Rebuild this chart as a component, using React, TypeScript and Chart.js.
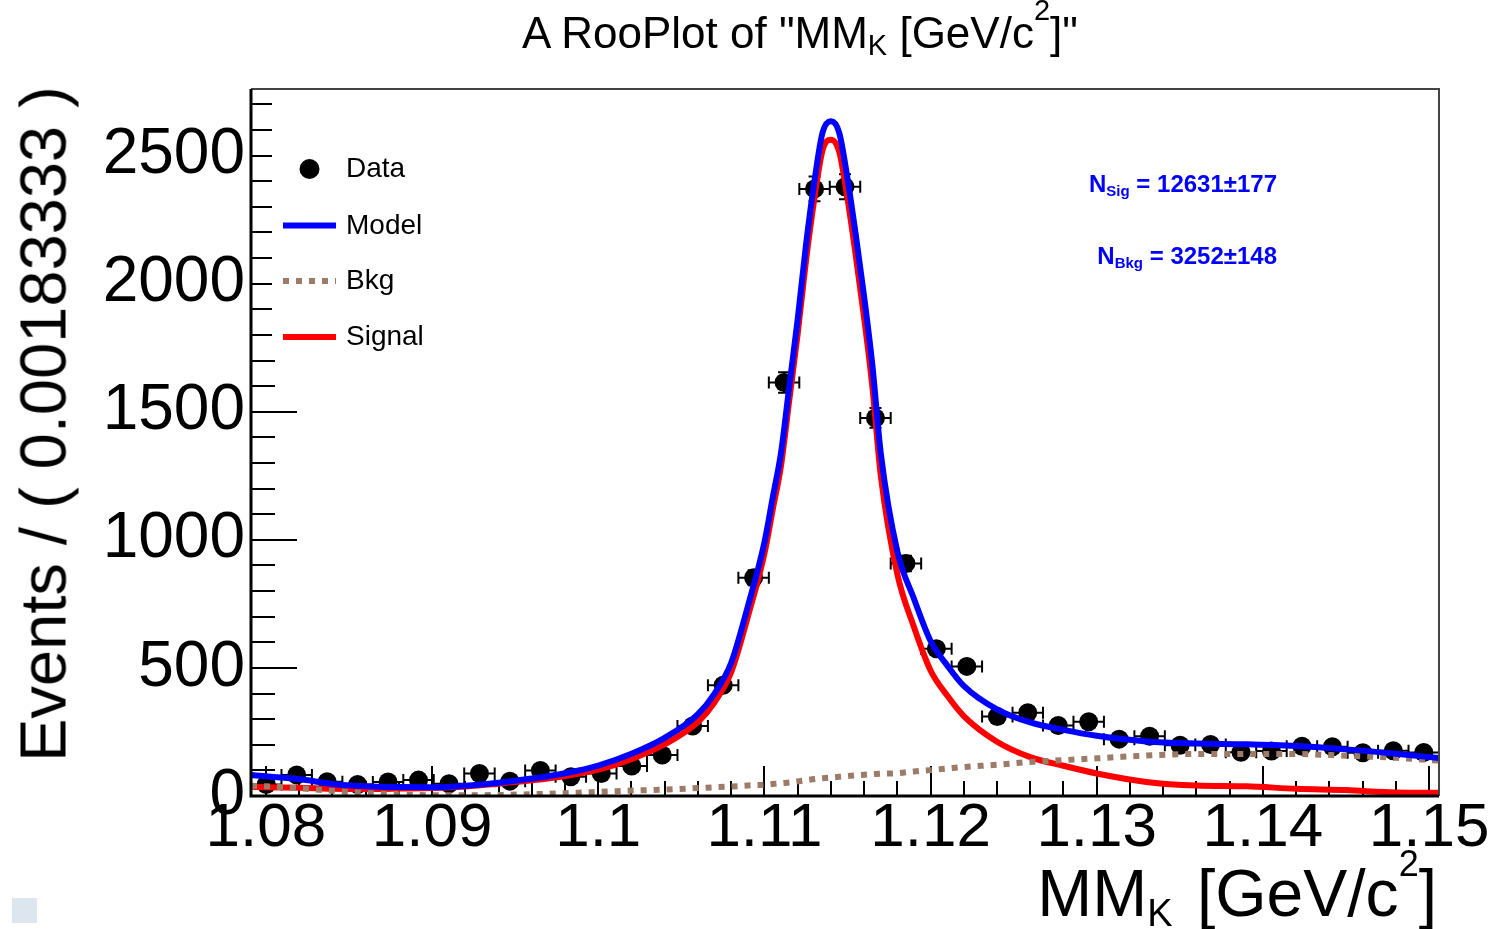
import React, { useEffect, useRef } from 'react';
import { Chart, registerables } from 'chart.js';

Chart.register(...registerables);

const FONT = '"Liberation Sans", Arial, Helvetica, sans-serif';

// ---- axes ----
const X_MIN = 1.0791;
const X_MAX = 1.1506;
const Y_MIN = 0;
const Y_MAX = 2760;
const BIN_WIDTH = 0.00183333;

const xTickValues = [1.08, 1.09, 1.1, 1.11, 1.12, 1.13, 1.14, 1.15];
const xTickLabels = ['1.08', '1.09', '1.1', '1.11', '1.12', '1.13', '1.14', '1.15'];
const yTickValues = [0, 500, 1000, 1500, 2000, 2500];
const yTickLabels = ['0', '500', '1000', '1500', '2000', '2500'];

// ---- data (bin centres, counts) ----
const dataX = [
  1.080017, 1.08185, 1.083683, 1.085517, 1.08735, 1.089183, 1.091017, 1.09285, 1.094683, 1.096517,
  1.09835, 1.100183, 1.102017, 1.10385, 1.105683, 1.107517, 1.10935, 1.111183, 1.113017, 1.11485,
  1.116683, 1.118517, 1.12035, 1.122183, 1.124017, 1.12585, 1.127683, 1.129517, 1.13135, 1.133183,
  1.135017, 1.13685, 1.138683, 1.140517, 1.14235, 1.144183, 1.146017, 1.14785, 1.149683,
];
const dataY = [
  45, 82, 56, 45, 55, 62, 48, 88, 58, 100,
  75, 88, 117, 160, 273, 432, 852, 1614, 2370, 2378,
  1476, 908, 575, 506, 310, 325, 275, 290, 222, 233,
  198, 201, 171, 176, 194, 192, 169, 177, 170,
];

// ---- fitted curves ----
const curveX = [
  1.0791, 1.08, 1.082, 1.084, 1.086, 1.088, 1.09, 1.092, 1.094, 1.096,
  1.098, 1.1, 1.102, 1.104, 1.106, 1.107, 1.108, 1.109, 1.11, 1.1105,
  1.111, 1.1115, 1.112, 1.1125, 1.113, 1.1135, 1.114, 1.1145, 1.115, 1.1155,
  1.116, 1.1165, 1.117, 1.118, 1.119, 1.12, 1.121, 1.122, 1.124, 1.126,
  1.128, 1.13, 1.133, 1.136, 1.139, 1.142, 1.145, 1.148, 1.1506,
];
const modelY = [
  82, 77, 66, 47, 38, 35, 34, 40, 52, 68,
  89, 119, 165, 227, 320, 400, 520, 740, 990, 1165,
  1340, 1600, 1860, 2150, 2395, 2590, 2634, 2590, 2410, 2190,
  1950, 1680, 1340, 955, 770, 605, 510, 430, 338, 287,
  258, 235, 213, 205, 202, 195, 182, 165, 148,
];
const bkgY = [
  40, 38, 30, 20, 12, 6, 3, 3, 4, 7,
  11, 16, 21, 25, 31, 34, 37, 41, 44, 47,
  50, 53, 57, 62, 66, 69, 72, 75, 78, 81,
  83, 85, 87, 89, 96, 101, 107, 113, 122, 133,
  140, 147, 158, 164, 164, 164, 157, 149, 138,
];
const signalY = [
  36, 34, 32, 28, 27, 29, 31, 37, 48, 61,
  78, 103, 144, 202, 289, 366, 483, 699, 946, 1118,
  1290, 1547, 1803, 2088, 2329, 2521, 2562, 2515, 2332, 2109,
  1867, 1595, 1253, 866, 660, 490, 392, 312, 212, 152,
  118, 88, 55, 41, 38, 28, 23, 14, 13,
];

const legendLabels = ['Data', 'Model', 'Bkg', 'Signal'];
const COLORS = {
  data: '#000000',
  model: '#0000ff',
  bkg: '#9c7b68',
  signal: '#ff0000',
};

const rootPlugin = {
  id: 'rootDecor',
  beforeDatasetsDraw(chart: any) {
    const { ctx, chartArea: a, scales } = chart;
    const xs = scales.x;
    const ys = scales.y;
    ctx.save();
    // inward tick marks
    ctx.strokeStyle = '#000';
    ctx.lineWidth = 2;
    ctx.beginPath();
    for (let i = 0; i * 100 <= Y_MAX; i++) {
      const py = Math.round(ys.getPixelForValue(i * 100));
      const len = i % 5 === 0 ? 46 : 24;
      ctx.moveTo(a.left, py);
      ctx.lineTo(a.left + len, py);
    }
    for (let i = 0; ; i++) {
      const v = 1.08 + i * 0.002;
      if (v > X_MAX + 1e-9) break;
      const px = Math.round(xs.getPixelForValue(v));
      const len = i % 5 === 0 ? 30 : 15;
      ctx.moveTo(px, a.bottom);
      ctx.lineTo(px, a.bottom - len);
    }
    ctx.stroke();

    // error bars of the data points
    ctx.beginPath();
    ctx.rect(a.left, a.top, a.right - a.left, a.bottom - a.top);
    ctx.clip();
    ctx.beginPath();
    ctx.lineWidth = 2;
    ctx.strokeStyle = '#000';
    dataX.forEach((xv, i) => {
      const yv = dataY[i];
      const px = xs.getPixelForValue(xv);
      const py = ys.getPixelForValue(yv);
      const x0 = xs.getPixelForValue(xv - BIN_WIDTH / 2);
      const x1 = xs.getPixelForValue(xv + BIN_WIDTH / 2);
      const err = Math.sqrt(yv);
      const y0 = ys.getPixelForValue(yv + err);
      const y1 = ys.getPixelForValue(yv - err);
      ctx.moveTo(x0, py); ctx.lineTo(x1, py);
      ctx.moveTo(x0, py - 6); ctx.lineTo(x0, py + 6);
      ctx.moveTo(x1, py - 6); ctx.lineTo(x1, py + 6);
      ctx.moveTo(px, y0); ctx.lineTo(px, y1);
      ctx.moveTo(px - 6, y0); ctx.lineTo(px + 6, y0);
      ctx.moveTo(px - 6, y1); ctx.lineTo(px + 6, y1);
    });
    ctx.stroke();
    ctx.restore();
  },
  afterDatasetsDraw(chart: any) {
    const { ctx, chartArea: a } = chart;
    ctx.save();
    // legend box (white, borderless)
    ctx.fillStyle = '#ffffff';
    ctx.fillRect(a.left + 21, a.top + 6, 180, 262);
    const rowY = [a.top + 80, a.top + 136.5, a.top + 192, a.top + 248];
    const symX0 = a.left + 32;
    const symX1 = a.left + 85;
    const textX = a.left + 95;
    // Data
    ctx.fillStyle = COLORS.data;
    ctx.beginPath();
    ctx.arc((symX0 + symX1) / 2, rowY[0], 10, 0, Math.PI * 2);
    ctx.fill();
    // Model
    ctx.lineCap = 'butt';
    ctx.lineWidth = 6;
    ctx.strokeStyle = COLORS.model;
    ctx.beginPath(); ctx.moveTo(symX0, rowY[1]); ctx.lineTo(symX1, rowY[1]); ctx.stroke();
    // Bkg
    ctx.strokeStyle = COLORS.bkg;
    ctx.setLineDash([6, 7]);
    ctx.beginPath(); ctx.moveTo(symX0, rowY[2]); ctx.lineTo(symX1, rowY[2]); ctx.stroke();
    ctx.setLineDash([]);
    // Signal
    ctx.strokeStyle = COLORS.signal;
    ctx.beginPath(); ctx.moveTo(symX0, rowY[3]); ctx.lineTo(symX1, rowY[3]); ctx.stroke();
    // labels
    ctx.fillStyle = '#000';
    ctx.font = `28px ${FONT}`;
    ctx.textBaseline = 'alphabetic';
    ctx.textAlign = 'left';
    legendLabels.forEach((t, i) => ctx.fillText(t, textX, rowY[i] + 8));

    // frame
    ctx.lineWidth = 2;
    ctx.strokeStyle = '#444';
    ctx.beginPath();
    ctx.moveTo(a.left, a.top); ctx.lineTo(a.right, a.top); ctx.lineTo(a.right, a.bottom);
    ctx.stroke();
    ctx.lineWidth = 3;
    ctx.strokeStyle = '#000';
    ctx.beginPath();
    ctx.moveTo(a.left, a.top); ctx.lineTo(a.left, a.bottom); ctx.lineTo(a.right, a.bottom);
    ctx.stroke();
    ctx.restore();
  },
};

function labelFor(values: number[], labels: string[], v: number) {
  let best = 0;
  values.forEach((tv, i) => {
    if (Math.abs(tv - v) < Math.abs(values[best] - v)) best = i;
  });
  return labels[best];
}

function pts(xa: number[], ya: number[]) {
  return xa.map((x, i) => ({ x, y: ya[i] }));
}

export default function App() {
  const ref = useRef<HTMLCanvasElement | null>(null);

  useEffect(() => {
    if (!ref.current) return;
    const chart = new Chart(ref.current, {
      type: 'scatter',
      data: {
        datasets: [
          {
            label: 'Model',
            data: pts(curveX, modelY),
            showLine: true,
            borderColor: COLORS.model,
            borderWidth: 6,
            pointRadius: 0,
            cubicInterpolationMode: 'monotone',
            order: 0,
          } as any,
          {
            label: 'Bkg',
            data: pts(curveX, bkgY),
            showLine: true,
            borderColor: COLORS.bkg,
            borderWidth: 6,
            borderDash: [6, 7],
            borderCapStyle: 'butt',
            pointRadius: 0,
            cubicInterpolationMode: 'monotone',
            order: 1,
          } as any,
          {
            label: 'Signal',
            data: pts(curveX, signalY),
            showLine: true,
            borderColor: COLORS.signal,
            borderWidth: 6,
            pointRadius: 0,
            cubicInterpolationMode: 'monotone',
            order: 2,
          } as any,
          {
            label: 'Data',
            data: pts(dataX, dataY),
            showLine: false,
            pointRadius: 9.5,
            pointBackgroundColor: COLORS.data,
            pointBorderWidth: 0,
            order: 3,
          } as any,
        ],
      },
      options: {
        responsive: false,
        animation: false,
        layout: { padding: { left: 0, right: 57, top: 89, bottom: 0 } },
        plugins: {
          legend: { display: false },
          tooltip: { enabled: false },
          title: { display: false },
        },
        scales: {
          x: {
            type: 'linear',
            min: X_MIN,
            max: X_MAX,
            grid: { display: false, drawTicks: false },
            border: { display: false },
            afterBuildTicks: (s: any) => {
              s.ticks = xTickValues.map((v) => ({ value: v }));
            },
            afterFit: (s: any) => {
              s.height = 133;
            },
            ticks: {
              autoSkip: false,
              maxRotation: 0,
              minRotation: 0,
              padding: 2,
              color: '#000',
              font: { family: FONT, size: 62, lineHeight: 1 },
              callback: (v: any) => labelFor(xTickValues, xTickLabels, Number(v)),
            },
          },
          y: {
            type: 'linear',
            min: Y_MIN,
            max: Y_MAX,
            grid: { display: false, drawTicks: false },
            border: { display: false },
            afterBuildTicks: (s: any) => {
              s.ticks = yTickValues.map((v) => ({ value: v }));
            },
            afterFit: (s: any) => {
              s.width = 251;
            },
            ticks: {
              autoSkip: false,
              padding: 6,
              color: '#000',
              font: { family: FONT, size: 64, lineHeight: 1 },
              callback: (v: any) => labelFor(yTickValues, yTickLabels, Number(v)),
            },
          },
        },
      } as any,
      plugins: [rootPlugin as any],
    });
    return () => chart.destroy();
  }, []);

  const abs: React.CSSProperties = { position: 'absolute', whiteSpace: 'nowrap', fontFamily: FONT, color: '#000' };

  return (
    <div style={{ position: 'absolute', left: 0, top: 0, width: 1496, height: 929, background: '#fff', overflow: 'hidden' }}>
      <canvas ref={ref} width={1496} height={929} style={{ position: 'absolute', left: 0, top: 0, width: 1496, height: 929 }} />
      {/* title */}
      <div style={{ ...abs, left: 800, top: 11, transform: 'translateX(-50%)', fontSize: 44, lineHeight: '44px' }}>
        A RooPlot of "MM<span style={{ position: 'relative', top: 7, fontSize: 29 }}>K</span> [GeV/c<span style={{ position: 'relative', top: -28, fontSize: 29 }}>2</span>]"
      </div>
      {/* y axis title */}
      <div style={{ ...abs, left: 43, top: 424, transform: 'translate(-50%, -50%) rotate(-90deg)', fontSize: 65, lineHeight: '65px' }}>
        Events / ( 0.00183333 )
      </div>
      {/* x axis title */}
      <div style={{ ...abs, right: 59, top: 860, fontSize: 66, lineHeight: '66px' }}>
        MM<span style={{ position: 'relative', top: 10, fontSize: 38, marginRight: 6 }}>K</span>{'\u00a0'}[GeV/c<span style={{ position: 'relative', top: -40, fontSize: 36 }}>2</span>]
      </div>
      {/* fit results */}
      <div style={{ ...abs, right: 219, top: 172, fontSize: 24, lineHeight: '24px', fontWeight: 700, color: '#0000ff' }}>
        N<span style={{ position: 'relative', top: 4, fontSize: 15 }}>Sig</span> = 12631±177
      </div>
      <div style={{ ...abs, right: 219, top: 244, fontSize: 24, lineHeight: '24px', fontWeight: 700, color: '#0000ff' }}>
        N<span style={{ position: 'relative', top: 4, fontSize: 15 }}>Bkg</span> = 3252±148
      </div>
      {/* small grey square in the corner */}
      <div style={{ position: 'absolute', left: 12, top: 898, width: 25, height: 25, background: '#dde5ef' }} />
    </div>
  );
}
